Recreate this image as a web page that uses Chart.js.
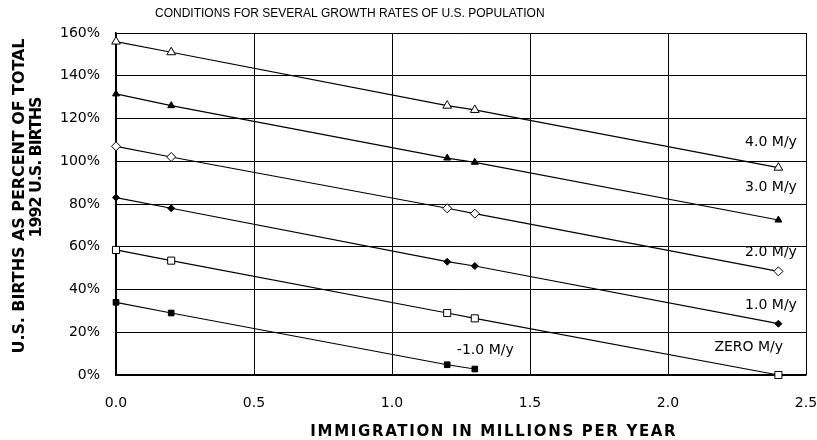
<!DOCTYPE html>
<html>
<head>
<meta charset="utf-8">
<script src="https://cdn.jsdelivr.net/npm/chart.js@4"></script>
<style>
  body { margin: 0; background: #fff; }
  #wrap { width: 817px; height: 440px; position: relative; }
</style>
</head>
<body>
<div id="wrap"><canvas id="c"></canvas></div>
<script>
// immigration (millions per year)
const immigration = [0, 0.2, 1.2, 1.3, 2.4]
// births as percent of 1992 total, per growth rate
const rate4 = [156, 151, 126, 124, 97]
const rate3 = [131.5, 126, 101.5, 99.5, 72.5]
const rate2 = [107, 102, 78, 75.5, 48.5]
const rate1 = [83, 78, 53, 51, 24]
const rate0 = [58.5, 53.5, 29, 26.5, 0]
const rateNeg1 = [34, 29, 4.8, 2.8]
const seriesNames = ['4.0 M/y', '3.0 M/y', '2.0 M/y', '1.0 M/y', 'ZERO M/y', '-1.0 M/y']
const yTicks = [0, 20, 40, 60, 80, 100, 120, 140, 160]
const xTicks = [0, 0.5, 1.0, 1.5, 2.0, 2.5]

const toPts = vals => vals.map((v, i) => ({ x: immigration[i], y: v }))

const FONT = '"DejaVu Sans", sans-serif'

function series(label, vals, style, filled, radius) {
  return {
    label,
    data: toPts(vals),
    borderColor: '#000',
    borderWidth: 1.2,
    pointStyle: style,
    pointRadius: radius,
    pointBackgroundColor: filled ? '#000' : '#fff',
    pointBorderColor: '#000',
    pointBorderWidth: 1,
    tension: 0,
    clip: false
  }
}

// draw text squeezed/stretched to a given width
function fitText(ctx, text, cx, cy, width) {
  ctx.letterSpacing = '0px'
  const w = ctx.measureText(text).width
  const ls = (width - w) / text.length
  ctx.letterSpacing = ls + 'px'
  ctx.fillText(text, cx + ls / 2, cy)
  ctx.letterSpacing = '0px'
}

// text annotations drawn at data coordinates
const seriesLabels = {
  id: 'seriesLabels',
  afterDatasetsDraw(chart) {
    const { ctx, scales: { x, y } } = chart
    const spots = [
      [2.467, 109, 'right'],
      [2.467, 88, 'right'],
      [2.467, 57.5, 'right'],
      [2.467, 32.7, 'right'],
      [2.417, 13.1, 'right'],
      [1.235, 11.7, 'left']
    ]
    ctx.save()
    ctx.font = '14px ' + FONT
    ctx.fillStyle = '#000'
    ctx.textBaseline = 'middle'
    spots.forEach((s, i) => {
      ctx.textAlign = s[2]
      ctx.fillText(seriesNames[i], x.getPixelForValue(s[0]), y.getPixelForValue(s[1]))
    })
    ctx.restore()
  }
}

const titles = {
  id: 'titles',
  afterDraw(chart) {
    const ctx = chart.ctx
    ctx.save()
    ctx.fillStyle = '#000'
    ctx.textBaseline = 'middle'
    ctx.textAlign = 'left'
    ctx.font = '12px "Liberation Sans", Arial, sans-serif'
    ctx.fillText('CONDITIONS FOR SEVERAL GROWTH RATES OF U.S. POPULATION', 155, 14)

    ctx.textAlign = 'center'
    ctx.font = 'bold 15px ' + FONT
    fitText(ctx, 'IMMIGRATION IN MILLIONS PER YEAR', 493, 432, 367)

    ctx.font = 'bold 16px ' + FONT
    ctx.save()
    ctx.translate(20, 196)
    ctx.rotate(-Math.PI / 2)
    fitText(ctx, 'U.S. BIRTHS AS PERCENT OF TOTAL', 0, 0, 315)
    ctx.restore()
    ctx.save()
    ctx.translate(37, 167)
    ctx.rotate(-Math.PI / 2)
    fitText(ctx, '1992 U.S. BIRTHS', 0, 0, 140)
    ctx.restore()
    ctx.restore()
  }
}

new Chart(document.getElementById('c'), {
  type: 'line',
  data: {
    datasets: [
      series(seriesNames[0], rate4, 'triangle', false, 5),
      series(seriesNames[1], rate3, 'triangle', true, 4),
      series(seriesNames[2], rate2, 'rectRot', false, 4.5),
      series(seriesNames[3], rate1, 'rectRot', true, 3.5),
      series(seriesNames[4], rate0, 'rect', false, 5),
      series(seriesNames[5], rateNeg1, 'rect', true, 4)
    ]
  },
  options: {
    responsive: true,
    maintainAspectRatio: false,
    animation: false,
    layout: { padding: { top: 33, right: 0, left: 0, bottom: 0 } },
    plugins: {
      legend: { display: false },
      tooltip: { enabled: false }
    },
    scales: {
      x: {
        type: 'linear',
        min: 0,
        max: 2.5,
        afterBuildTicks: s => { s.ticks = xTicks.map(v => ({ value: v })) },
        ticks: {
          color: '#000',
          font: { family: FONT, size: 14 },
          padding: 20,
          maxRotation: 0,
          callback: v => Number(v).toFixed(1)
        },
        grid: { color: '#000', lineWidth: 1, drawTicks: false },
        border: { color: '#000', width: 1.5 },
        afterFit: s => {
          s.height = 65
          s.paddingLeft = 0
          s.paddingRight = 11
        }
      },
      y: {
        min: 0,
        max: 160,
        afterBuildTicks: s => { s.ticks = yTicks.map(v => ({ value: v })) },
        ticks: {
          color: '#000',
          font: { family: FONT, size: 14 },
          padding: 16,
          callback: v => v + '%'
        },
        grid: { color: '#000', lineWidth: 1, drawTicks: false },
        border: { color: '#000', width: 1.5 },
        afterFit: s => { s.width = 116 }
      }
    }
  },
  plugins: [seriesLabels, titles]
})
</script>
</body>
</html>
